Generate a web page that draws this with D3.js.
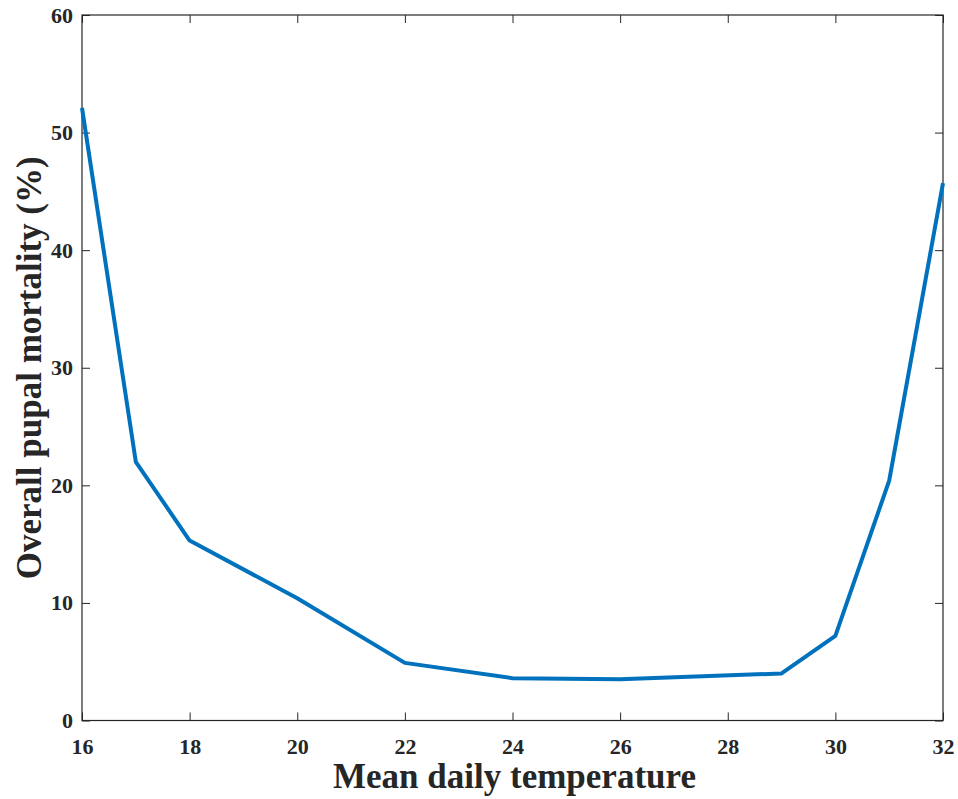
<!DOCTYPE html>
<html>
<head>
<meta charset="utf-8">
<script src="https://cdn.jsdelivr.net/npm/d3@7"></script>
<style>
  html, body { margin: 0; padding: 0; background: #fff; }
  svg { display: block; }
</style>
</head>
<body>
<svg id="chart" width="958" height="799"></svg>
<script>
const temperatures = [16, 17, 18, 20, 22, 24, 26, 29, 30, 31, 32];
const mortality = [52.1, 22.0, 15.3, 10.4, 4.9, 3.6, 3.5, 4.0, 7.2, 20.4, 45.7];
const xTicks = [16, 18, 20, 22, 24, 26, 28, 30, 32];
const yTicks = [0, 10, 20, 30, 40, 50, 60];
const xLabel = "Mean daily temperature";
const yLabel = "Overall pupal mortality (%)";

const svg = d3.select("#chart");
const m = { left: 82, right: 943, top: 15, bottom: 720.5 };
const x = d3.scaleLinear().domain([16, 32]).range([m.left, m.right]);
const y = d3.scaleLinear().domain([0, 60]).range([m.bottom, m.top]);

const axisColor = "#262626";
const font = "'Liberation Serif', 'Times New Roman', serif";
const tickLen = 8;

function styleAxis(g, showText) {
  g.select(".domain").remove();
  g.selectAll(".tick line").attr("stroke", axisColor).attr("stroke-width", 1);
  g.selectAll(".tick text")
    .attr("fill", axisColor)
    .style("font-family", font)
    .style("font-weight", "bold")
    .style("font-size", "22px");
  if (!showText) g.selectAll(".tick text").remove();
}

// bottom axis
svg.append("g").attr("transform", `translate(0,${m.bottom})`)
  .call(d3.axisBottom(x).tickValues(xTicks).tickSize(-tickLen).tickPadding(18).tickFormat(d3.format("d")))
  .call(g => styleAxis(g, true));
// top axis
svg.append("g").attr("transform", `translate(0,${m.top})`)
  .call(d3.axisTop(x).tickValues(xTicks).tickSize(-tickLen))
  .call(g => styleAxis(g, false));
// left axis
svg.append("g").attr("transform", `translate(${m.left},0)`)
  .call(d3.axisLeft(y).tickValues(yTicks).tickSize(-tickLen).tickPadding(9).tickFormat(d3.format("d")))
  .call(g => styleAxis(g, true));
// right axis
svg.append("g").attr("transform", `translate(${m.right},0)`)
  .call(d3.axisRight(y).tickValues(yTicks).tickSize(-tickLen))
  .call(g => styleAxis(g, false));

// box
svg.append("rect")
  .attr("x", m.left).attr("y", m.top)
  .attr("width", m.right - m.left).attr("height", m.bottom - m.top)
  .attr("fill", "none").attr("stroke", axisColor).attr("stroke-width", 1.2);

// line
const line = d3.line().x((d, i) => x(temperatures[i])).y(d => y(d));
svg.append("path")
  .datum(mortality)
  .attr("d", line)
  .attr("fill", "none")
  .attr("stroke", "#0072BD")
  .attr("stroke-width", 4)
  .attr("stroke-linejoin", "round");

// axis labels
svg.append("text")
  .attr("x", (m.left + m.right) / 2 + 2).attr("y", 788)
  .attr("text-anchor", "middle")
  .attr("fill", axisColor)
  .style("font-family", font).style("font-weight", "bold").style("font-size", "35px")
  .text(xLabel);

svg.append("text")
  .attr("transform", `translate(41,${(m.top + m.bottom) / 2}) rotate(-90)`)
  .attr("text-anchor", "middle")
  .attr("fill", axisColor)
  .style("font-family", font).style("font-weight", "bold").style("font-size", "35px")
  .text(yLabel);
</script>
</body>
</html>
